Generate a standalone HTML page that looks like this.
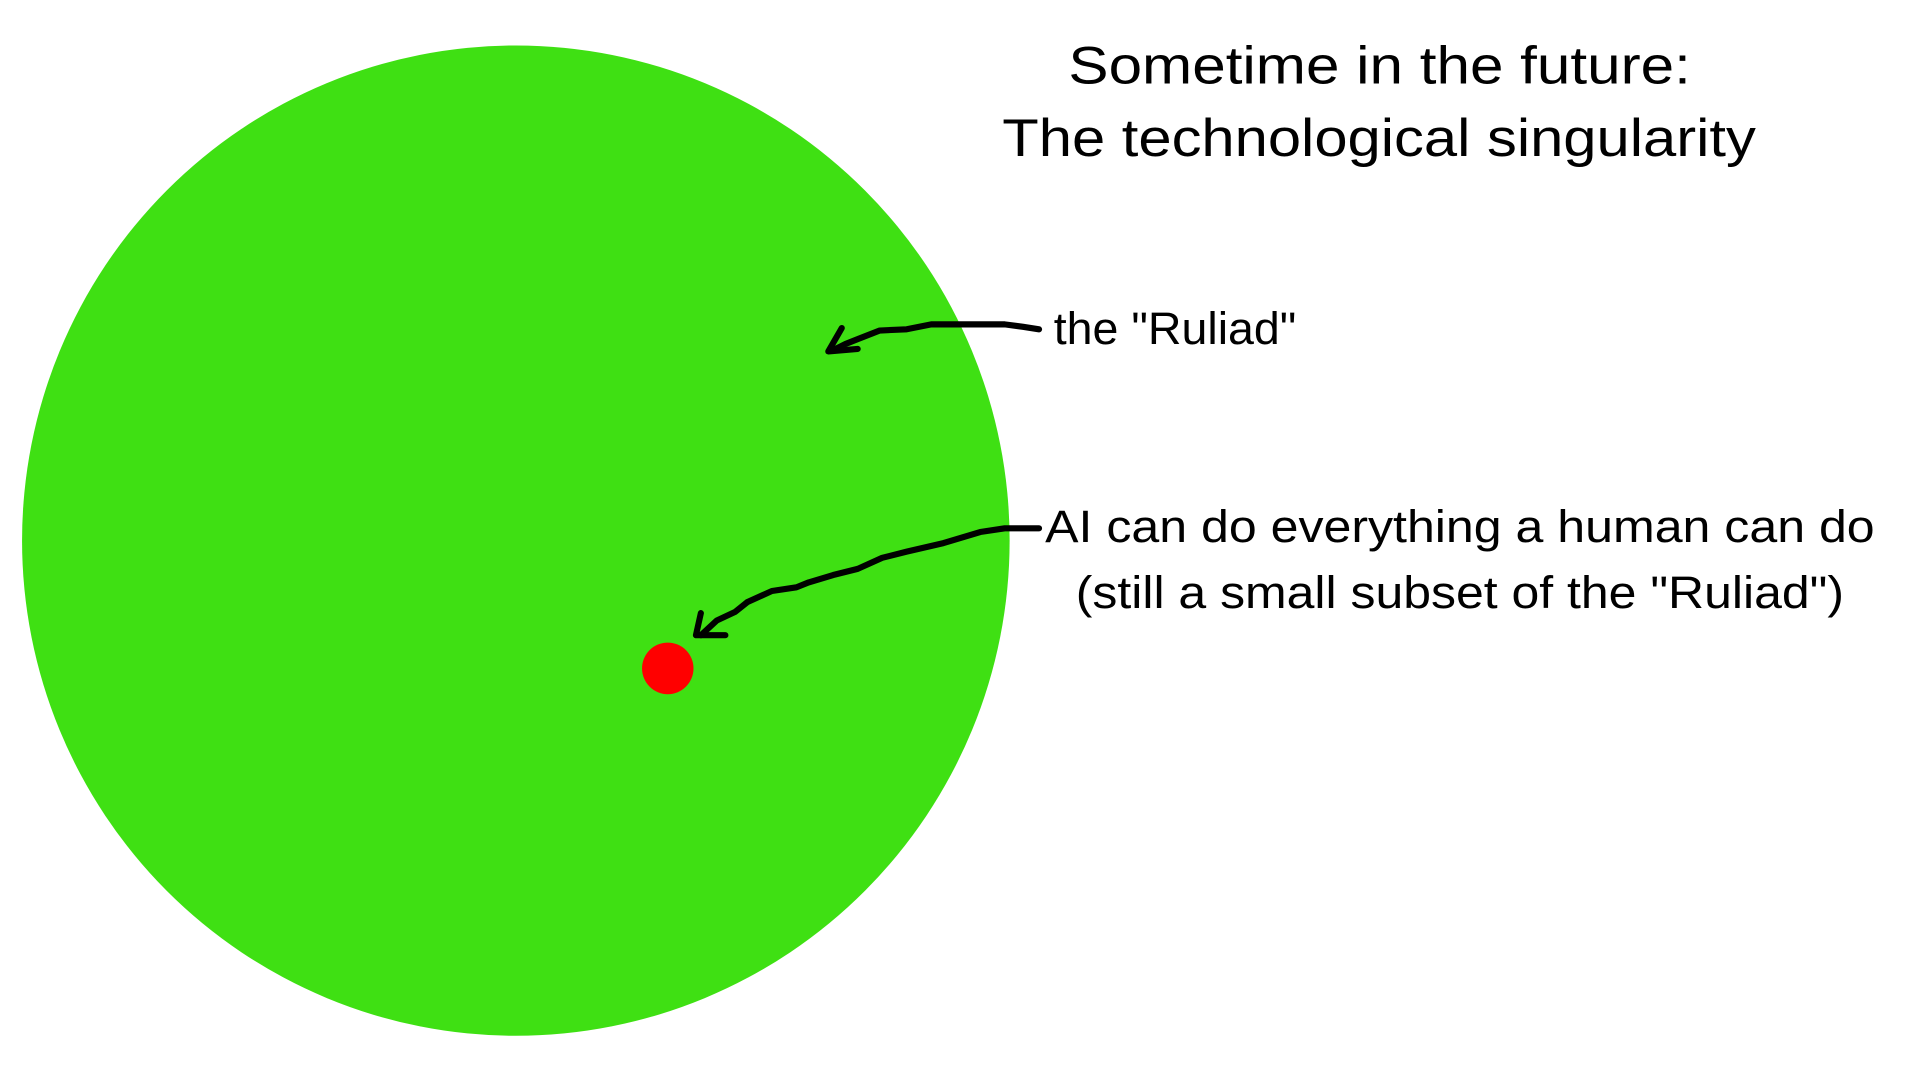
<!DOCTYPE html>
<html><head><meta charset="utf-8"><style>
html,body{margin:0;padding:0;background:#fff;width:1920px;height:1080px;overflow:hidden}
svg{display:block}
text{font-family:"Liberation Sans",Arial,sans-serif;fill:#000}
</style></head><body>
<svg width="1920" height="1080" viewBox="0 0 1567 879" preserveAspectRatio="none">
<rect x="0" y="0" width="1567" height="879" fill="#fff"/>
<ellipse cx="421" cy="440" rx="403" ry="403" fill="#3fe013"/>
<circle cx="545" cy="544" r="21" fill="#ff0000"/>
<text x="872" y="68" font-size="43" textLength="508" lengthAdjust="spacingAndGlyphs">Sometime in the future:</text>
<text x="818" y="127" font-size="43" textLength="615" lengthAdjust="spacingAndGlyphs">The technological singularity</text>
<text x="860" y="280" font-size="37" textLength="198" lengthAdjust="spacingAndGlyphs">the "Ruliad"</text>
<text x="853" y="441" font-size="37" textLength="677" lengthAdjust="spacingAndGlyphs">AI can do everything a human can do</text>
<text x="878" y="495" font-size="37" textLength="627" lengthAdjust="spacingAndGlyphs">(still a small subset of the "Ruliad")</text>
<g fill="none" stroke="#000" stroke-width="5" stroke-linecap="round" stroke-linejoin="round">
<path d="M848,268 L835,266 L820,264 L790,264 L760,264 L740,268 L718,269 L700,276 L690,280 L680,285"/>
<path d="M687,267 L676,286 L700,284"/>
<path d="M848,430 L820,430 L800,433 L770,442 L740,449 L720,454 L700,463 L680,468 L660,474 L650,478 L630,481 L610,490 L600,498 L585,505 L572,517"/>
<path d="M572,499 L568,517 L592,517"/>
</g>
</svg>
</body></html>
